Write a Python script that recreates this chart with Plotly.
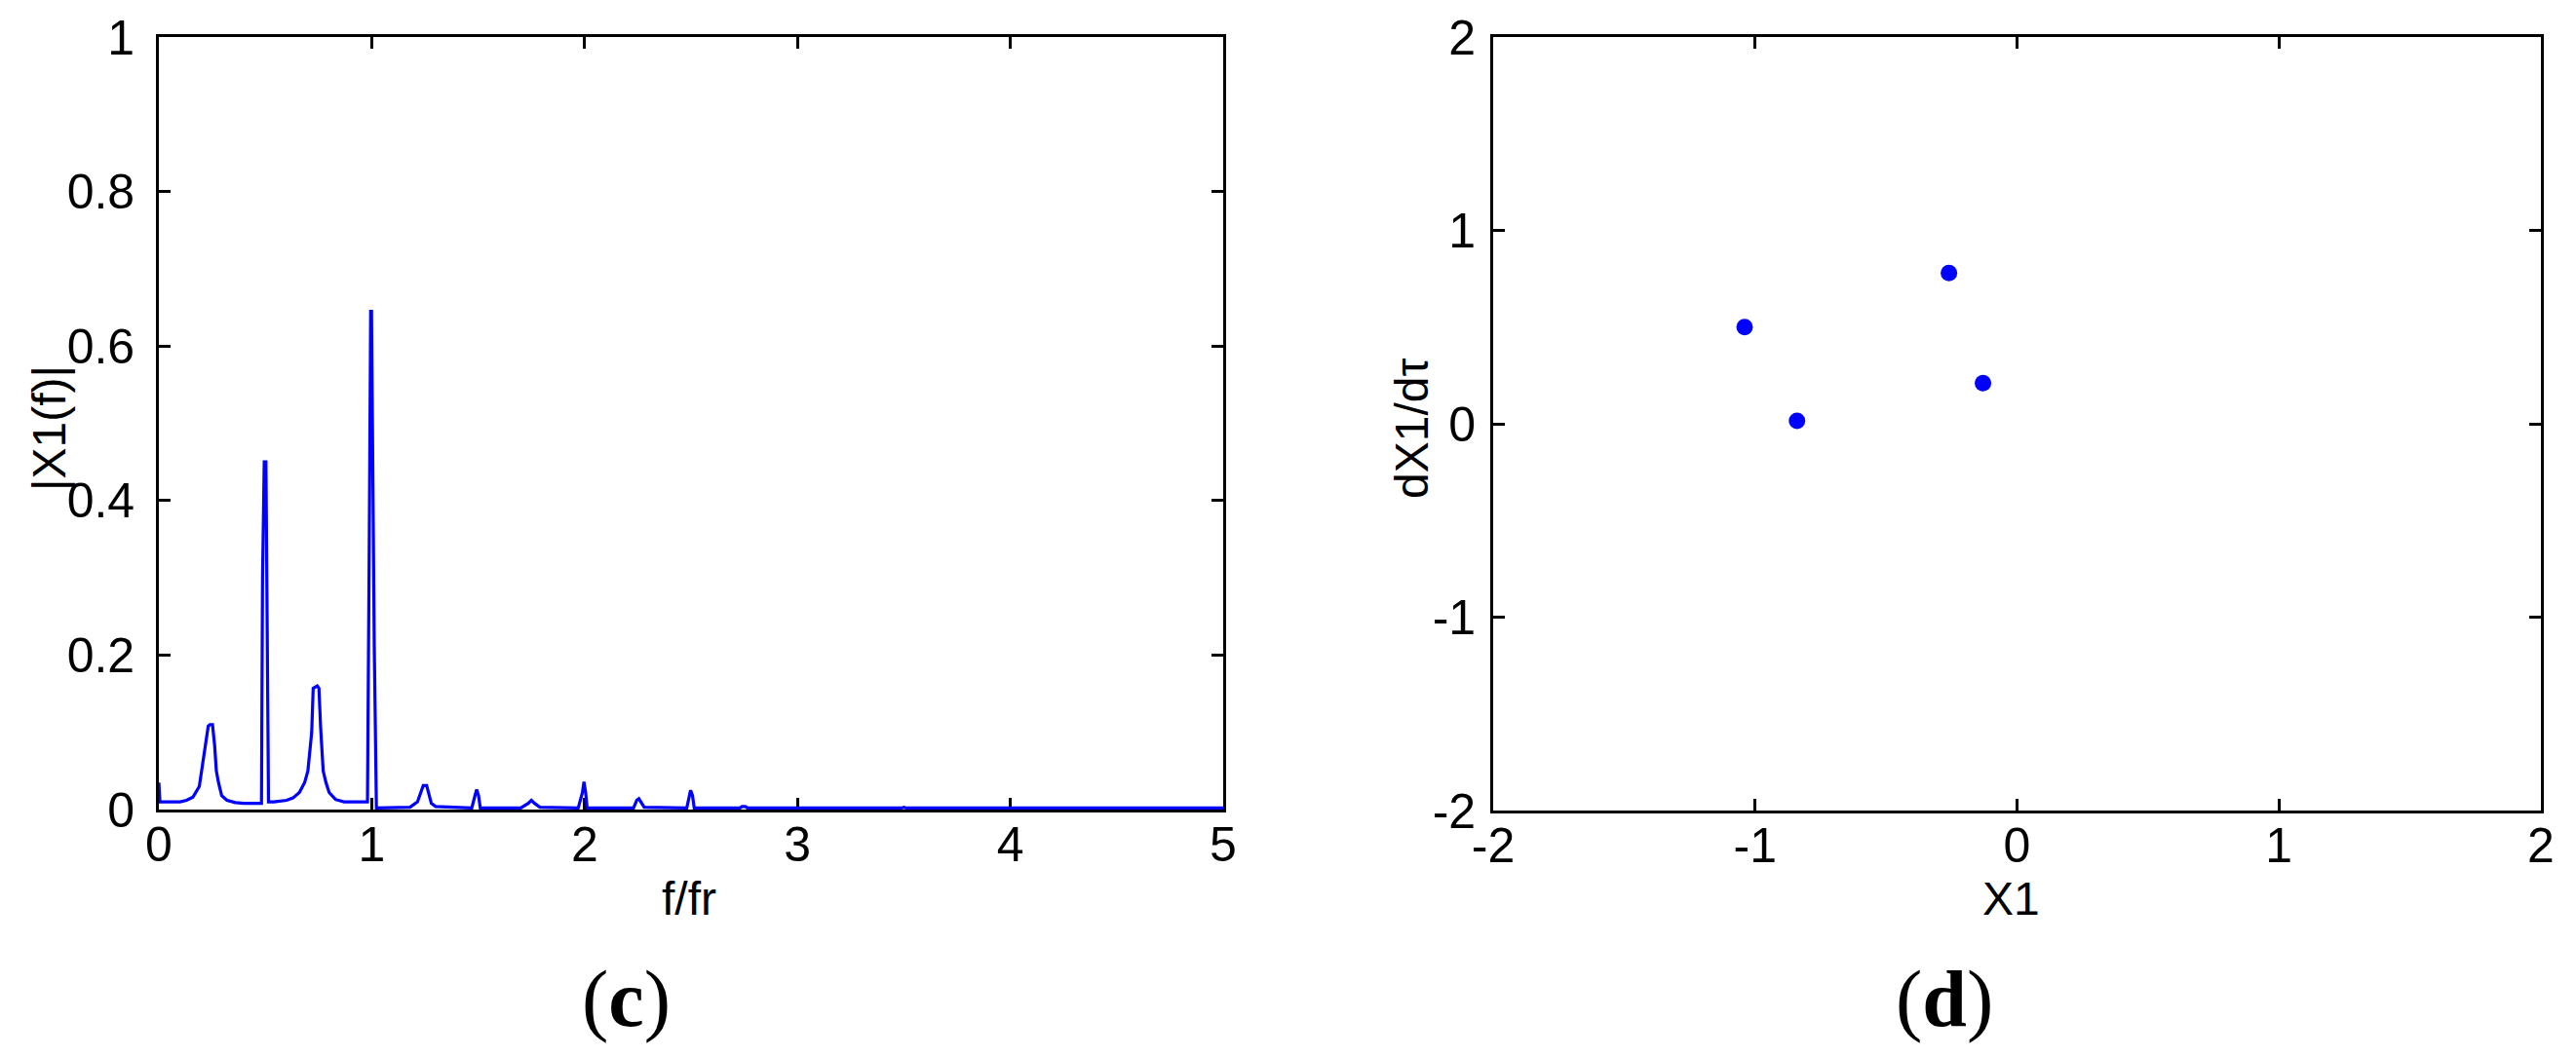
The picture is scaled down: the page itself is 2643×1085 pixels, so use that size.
import plotly.graph_objects as go

# ---- Panel (c): amplitude spectrum |X1(f)| vs f/fr
freq = [0.000, 0.005, 0.050, 0.100, 0.130, 0.160, 0.190, 0.205, 0.220, 0.232, 0.240, 0.252,
        0.262, 0.270, 0.280, 0.295, 0.320, 0.360, 0.400, 0.450, 0.482, 0.487, 0.495, 0.503,
        0.508, 0.515, 0.540, 0.570, 0.600, 0.630, 0.660, 0.685, 0.700, 0.718, 0.725, 0.744,
        0.752, 0.760, 0.772, 0.785, 0.800, 0.830, 0.870, 0.920, 0.980, 0.988, 0.995, 0.999,
        1.004, 1.012, 1.022, 1.100, 1.180, 1.215, 1.232, 1.242, 1.258, 1.268, 1.280, 1.300,
        1.360, 1.470, 1.485, 1.493, 1.502, 1.510, 1.700, 1.735, 1.750, 1.765, 1.790, 1.970,
        1.990, 1.997, 2.005, 2.012, 2.230, 2.245, 2.255, 2.268, 2.280, 2.480, 2.490, 2.498,
        2.507, 2.515, 2.730, 2.740, 2.755, 2.765, 3.490, 3.500, 3.510, 5.000]
amp = [0.035, 0.010, 0.010, 0.010, 0.012, 0.016, 0.030, 0.060, 0.083, 0.108, 0.110, 0.110,
       0.083, 0.050, 0.035, 0.018, 0.012, 0.009, 0.008, 0.008, 0.008, 0.300, 0.450, 0.450,
       0.230, 0.010, 0.010, 0.011, 0.012, 0.015, 0.022, 0.035, 0.050, 0.100, 0.157, 0.160,
       0.157, 0.106, 0.050, 0.035, 0.022, 0.013, 0.010, 0.010, 0.010, 0.330, 0.645, 0.645,
       0.430, 0.210, 0.002, 0.002, 0.003, 0.010, 0.022, 0.031, 0.031, 0.020, 0.008, 0.004,
       0.003, 0.002, 0.018, 0.026, 0.018, 0.002, 0.002, 0.008, 0.012, 0.008, 0.003, 0.002,
       0.022, 0.036, 0.022, 0.002, 0.002, 0.012, 0.014, 0.008, 0.003, 0.002, 0.018, 0.025,
       0.018, 0.002, 0.002, 0.004, 0.004, 0.002, 0.002, 0.003, 0.002, 0.002]

# ---- Panel (d): phase points (X1, dX1/dtau)
x1_pts = [-1.04, -0.84, -0.26, -0.13]
dx1_pts = [0.50, 0.015, 0.78, 0.21]

# ---- tick labels
c_xticks = [0, 1, 2, 3, 4, 5]
c_xtext = ["0", "1", "2", "3", "4", "5"]
c_yticks = [0, 0.2, 0.4, 0.6, 0.8, 1]
c_ytext = ["0", "0.2", "0.4", "0.6", "0.8", "1"]
d_ticks = [-2, -1, 0, 1, 2]
d_text = ["-2", "-1", "0", "1", "2"]

W, H = 2643, 1085
OFF = 8  # page body margin offset
BLUE = "rgb(0,0,255)"
TICKFONT = dict(family="Liberation Sans, Arial, sans-serif", size=50, color="black")

fig = go.Figure()
fig.add_trace(go.Scatter(x=freq, y=amp, mode="lines",
                         line=dict(color=BLUE, width=3.2),
                         xaxis="x", yaxis="y", showlegend=False))
fig.add_trace(go.Scatter(x=x1_pts, y=dx1_pts, mode="markers",
                         marker=dict(color=BLUE, size=17, line=dict(width=0)),
                         xaxis="x2", yaxis="y2", showlegend=False))

def px_x(p):
    return (p - OFF) / W

def px_y(p):
    return (H - (p - OFF)) / H

axis_common = dict(showline=True, linecolor="black", linewidth=2.7, mirror="ticks",
                   ticks="inside", ticklen=12, tickwidth=2.5, tickcolor="black",
                   showgrid=False, zeroline=False, tickfont=TICKFONT,
                   tickmode="array", layer="below traces", automargin=False)

fig.update_layout(
    width=W, height=H,
    paper_bgcolor="white", plot_bgcolor="white",
    margin=dict(l=0, r=0, t=0, b=0),
    xaxis=dict(domain=[px_x(163), px_x(1255)], range=[0, 5], anchor="y",
               tickvals=c_xticks, ticktext=c_xtext, ticklabelstandoff=-10, **axis_common),
    yaxis=dict(domain=[px_y(831), px_y(38)], range=[0, 1], anchor="x",
               tickvals=c_yticks, ticktext=c_ytext, ticklabelstandoff=12, **axis_common),
    xaxis2=dict(domain=[px_x(1532), px_x(2607)], range=[-2, 2], anchor="y2",
                tickvals=d_ticks, ticktext=d_text, ticklabelstandoff=-10, **axis_common),
    yaxis2=dict(domain=[px_y(832), px_y(38)], range=[-2, 2], anchor="x2",
                tickvals=d_ticks, ticktext=d_text, ticklabelstandoff=5, **axis_common),
)

TITLEFONT = dict(family="Liberation Sans, Arial, sans-serif", size=48, color="black")
PANELFONT = dict(family="Liberation Serif, Times New Roman, serif", size=82, color="black")

ann = [
    dict(text="f/fr", x=px_x(707), y=px_y(922), font=TITLEFONT),
    dict(text="X1", x=px_x(2063), y=px_y(922), font=TITLEFONT),
    dict(text="|X1(f)|", x=px_x(50), y=px_y(440), font=TITLEFONT, textangle=-90),
    dict(text="dX1/dτ", x=px_x(1448), y=px_y(440), font=TITLEFONT, textangle=-90),
    dict(text="(<b>c</b>)", x=px_x(642), y=px_y(1025), font=PANELFONT),
    dict(text="(<b>d</b>)", x=px_x(1995), y=px_y(1025), font=PANELFONT),
]
for a in ann:
    fig.add_annotation(xref="paper", yref="paper", showarrow=False,
                       xanchor="center", yanchor="middle", **a)

fig.write_html("out.html")
